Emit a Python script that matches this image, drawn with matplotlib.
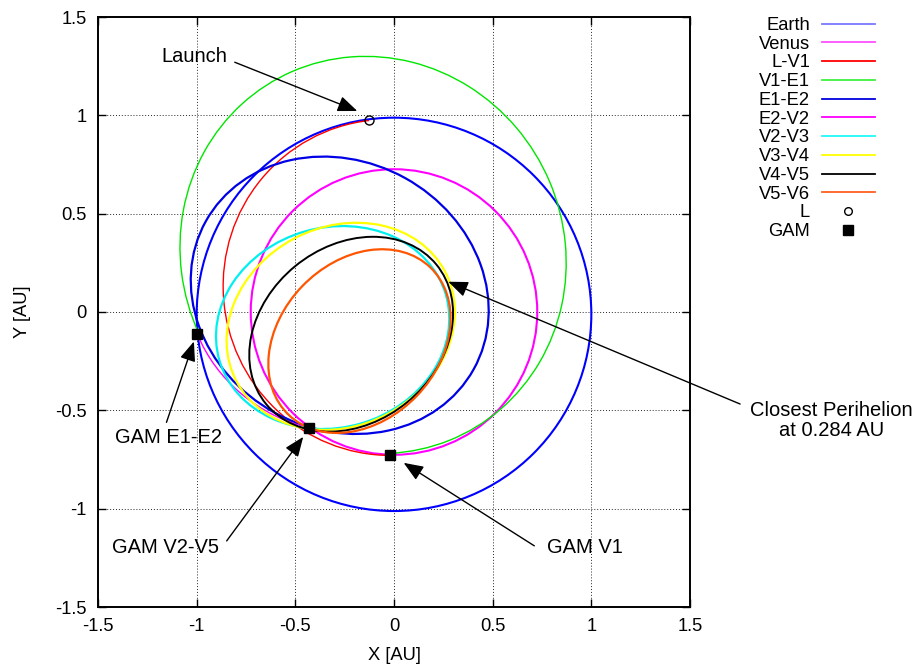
import numpy as np
import matplotlib
matplotlib.use('Agg')
import matplotlib.pyplot as plt
from matplotlib.patches import Ellipse, Arc
from matplotlib.lines import Line2D

plt.rcParams['font.family'] = ['Liberation Sans', 'DejaVu Sans']
plt.rcParams['axes.unicode_minus'] = False

# orbit segments projected on the ecliptic [AU]: centre, full width, full height, tilt [deg]
orbit_names = ['Earth', 'Venus', 'L-V1', 'V1-E1', 'E1-E2', 'E2-V2', 'V2-V3', 'V3-V4', 'V4-V5', 'V5-V6']
orbit_cx = [0.0, 0.0, -0.025, -0.106, -0.275, -0.278, -0.311, -0.270, -0.217, -0.175]
orbit_cy = [-0.012, 0.0, 0.125, 0.290, 0.085, 0.116, -0.079, -0.073, -0.113, -0.148]
orbit_w = [2.0, 1.452, 1.710, 2.038, 1.552, 1.562, 1.195, 1.195, 1.117, 1.038]
orbit_h = [2.0, 1.452, 1.680, 1.938, 1.364, 1.441, 1.017, 1.010, 0.895, 0.805]
orbit_angle = [0.0, 0.0, -76.4, -64.3, -29.0, -22.6, 16.2, 28.0, 39.5, 46.3]
# start / end event of each segment (None -> whole orbit)
orbit_from = [None, None, 'L', 'V1', None, 'E1', None, None, None, None]
orbit_to = [None, None, 'V1', 'E1', None, 'V2', None, None, None, None]

launch_x = [-0.127]
launch_y = [0.976]
gam_names = ['V1', 'E1', 'V2']
gam_x = [-0.020, -0.997, -0.429]
gam_y = [-0.729, -0.112, -0.591]

tick_vals = [-1.5, -1.0, -0.5, 0.0, 0.5, 1.0, 1.5]
tick_labels = ['-1.5', '-1', '-0.5', '0', '0.5', '1', '1.5']

ann_text = ['Launch', 'Closest Perihelion\nat 0.284 AU', 'GAM E1-E2', 'GAM V2-V5', 'GAM V1']
ann_text_xy = [(-1.01, 1.30), (2.215, -0.553), (-1.145, -0.640), (-1.158, -1.198), (0.966, -1.198)]
ann_from = [(-0.807, 1.27), (1.754, -0.468), (-1.153, -0.561), (-0.848, -1.164), (0.711, -1.189)]
ann_to = [(-0.186, 1.022), (0.275, 0.154), (-1.014, -0.150), (-0.460, -0.635), (0.049, -0.767)]

colors = ['#0000ff', '#ff00ff', '#ff0000', '#00e600', '#0000e6',
          '#ff00ff', '#00f0f0', '#ffff00', '#000000', '#ff5500']
widths = [1.5, 1.5, 1.0, 1.0, 1.6, 1.0, 1.6, 1.6, 1.4, 1.6]
legend_colors = ['#7878ff', '#ff50ff', '#ff0000', '#40f040', '#0000dd',
                 '#ff00ff', '#20f8f8', '#ffff00', '#000000', '#ff6020']

events = {'L': (launch_x[0], launch_y[0])}
for n, x, y in zip(gam_names, gam_x, gam_y):
    events[n] = (x, y)


def frame_angle(cx, cy, ang, pt):
    # direction of pt seen from the ellipse centre, in the ellipse's own frame
    t = np.deg2rad(ang)
    dx, dy = pt[0] - cx, pt[1] - cy
    u = dx * np.cos(t) + dy * np.sin(t)
    v = -dx * np.sin(t) + dy * np.cos(t)
    return np.degrees(np.arctan2(v, u))


fig = plt.figure(figsize=(9.21, 6.66), dpi=100)
ax = fig.add_axes([98 / 921, 59 / 666, 592 / 921, 590 / 666])

handles = []
for i, name in enumerate(orbit_names):
    kw = dict(edgecolor=colors[i], lw=widths[i], fill=False, zorder=2 + i * 0.01)
    if orbit_from[i] is None:
        p = Ellipse((orbit_cx[i], orbit_cy[i]), orbit_w[i], orbit_h[i],
                    angle=orbit_angle[i], **kw)
    else:
        t1 = frame_angle(orbit_cx[i], orbit_cy[i], orbit_angle[i], events[orbit_from[i]])
        t2 = frame_angle(orbit_cx[i], orbit_cy[i], orbit_angle[i], events[orbit_to[i]])
        p = Arc((orbit_cx[i], orbit_cy[i]), orbit_w[i], orbit_h[i],
                angle=orbit_angle[i], theta1=t1, theta2=t2,
                color=colors[i], lw=widths[i], zorder=2 + i * 0.01)
    ax.add_patch(p)
    handles.append(Line2D([], [], color=legend_colors[i], lw=1.3, label=name))

ax.plot(launch_x, launch_y, ls='none', marker='o', mfc='none', mec='black',
        ms=6.5, mew=1.0, zorder=5)
ax.plot(gam_x, gam_y, ls='none', marker='s', color='black', ms=7.5, zorder=5)
handles.append(Line2D([], [], ls='none', marker='o', mfc='none', mec='black',
                      ms=5.5, mew=1.0, label='L'))
handles.append(Line2D([], [], ls='none', marker='s', color='black', ms=6.5, label='GAM'))

for txt, txy, a0, a1 in zip(ann_text, ann_text_xy, ann_from, ann_to):
    ax.annotate('', xy=a1, xytext=a0, annotation_clip=False, zorder=6,
                arrowprops=dict(arrowstyle='-|>,head_length=0.8,head_width=0.32',
                                color='black', lw=1.0, mutation_scale=15,
                                shrinkA=0, shrinkB=0))
    ax.text(txy[0], txy[1], txt, ha='center', va='center', fontsize=14.5,
            linespacing=1.08, clip_on=False, zorder=6)

ax.set_xlim(-1.5, 1.5)
ax.set_ylim(-1.5, 1.5)
ax.set_xticks(tick_vals)
ax.set_xticklabels(tick_labels)
ax.set_yticks(tick_vals)
ax.set_yticklabels(tick_labels)
ax.tick_params(direction='in', top=True, right=True, length=6, width=1,
               labelsize=13.2, pad=8)
ax.grid(True, linestyle=(0, (1, 2)), color='black', lw=0.7, alpha=0.85)
for s in ax.spines.values():
    s.set_linewidth(1.4)

ax.set_xlabel('X [AU]', fontsize=13.2, va='center')
ax.xaxis.set_label_coords(0.5, -0.0814)
ax.set_ylabel('Y [AU]', fontsize=13.2, va='center')
ax.yaxis.set_label_coords(-0.128, 0.5)

fig.legend(handles=handles, loc='upper right', bbox_to_anchor=(875 / 921, 1 - 17 / 666),
           frameon=False, markerfirst=False, fontsize=13.2, handlelength=2.9,
           handletextpad=0.65, labelspacing=0.095, borderpad=0, borderaxespad=0,
           numpoints=1)

fig.savefig('out.png', dpi=100)
